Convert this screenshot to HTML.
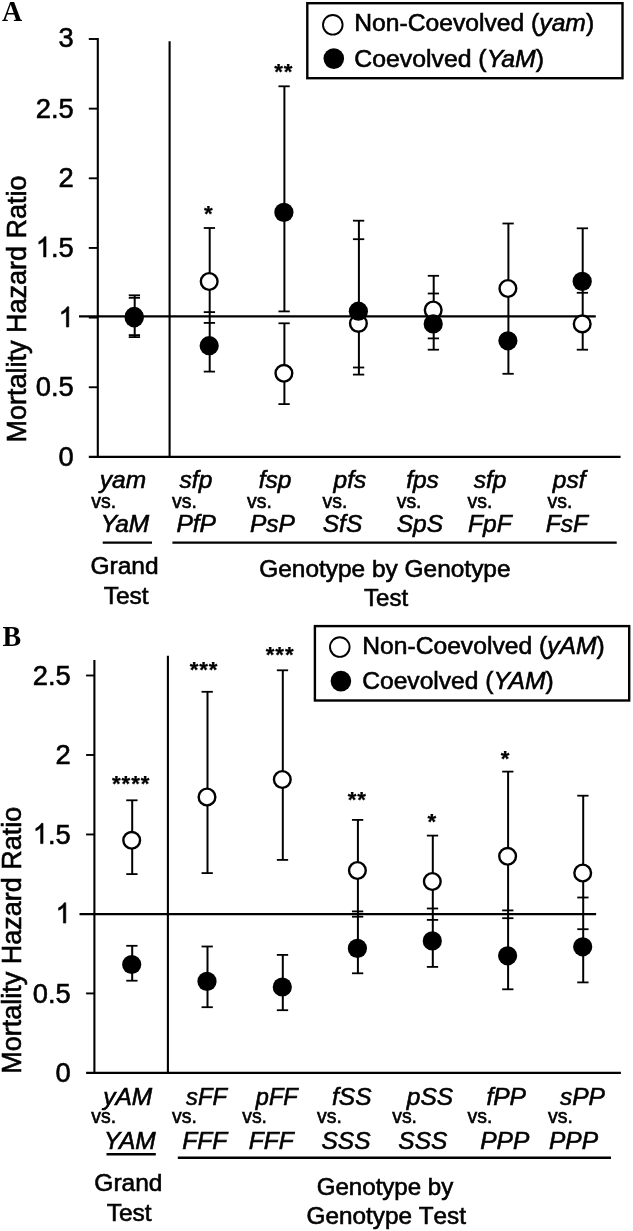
<!DOCTYPE html>
<html lang="en">
<head>
<meta charset="utf-8">
<title>Mortality Hazard Ratio</title>
<style>
html,body{margin:0;padding:0;background:#fff;}
body{width:633px;height:1231px;overflow:hidden;font-family:"Liberation Sans",sans-serif;}
svg{display:block;}
text{font-family:"Liberation Sans",sans-serif;stroke:#000;stroke-width:0.6px;}
svg{will-change:transform;}
</style>
</head>
<body>
<svg width="633" height="1231" viewBox="0 0 633 1231" font-family='"Liberation Sans", sans-serif' fill="#000">
<rect x="0" y="0" width="633" height="1231" fill="#fff"/>
<text transform="translate(1.95,20.7) scale(1,1.03)" font-size="28" font-weight="bold" style="font-family:&quot;Liberation Serif&quot;,serif;stroke:none">A</text>
<line x1="97.80" y1="38.10" x2="97.80" y2="457.95" stroke="#000" stroke-width="2.1"/>
<line x1="88.80" y1="456.90" x2="620.60" y2="456.90" stroke="#000" stroke-width="2.1"/>
<line x1="88.80" y1="39.00" x2="97.80" y2="39.00" stroke="#000" stroke-width="1.9"/>
<line x1="88.80" y1="108.65" x2="97.80" y2="108.65" stroke="#000" stroke-width="1.9"/>
<line x1="88.80" y1="178.30" x2="97.80" y2="178.30" stroke="#000" stroke-width="1.9"/>
<line x1="88.80" y1="247.95" x2="97.80" y2="247.95" stroke="#000" stroke-width="1.9"/>
<line x1="88.80" y1="317.60" x2="97.80" y2="317.60" stroke="#000" stroke-width="1.9"/>
<line x1="88.80" y1="387.25" x2="97.80" y2="387.25" stroke="#000" stroke-width="1.9"/>
<g transform="translate(58.62,47.30) scale(1,1.035)">
<text x="0" y="0" font-size="27.3">3</text>
</g>
<g transform="translate(35.85,117.75) scale(1,1.035)">
<text x="0" y="0" font-size="27.3">2.5</text>
</g>
<g transform="translate(58.62,186.90) scale(1,1.035)">
<text x="0" y="0" font-size="27.3">2</text>
</g>
<g transform="translate(35.85,256.95) scale(1,1.035)">
<path d="M763,0 L583,0 L583,1147 Q518,1085 412.5,1023 Q307,961 223,930 L223,1104 Q374,1175 487,1276 Q600,1377 647,1472 L763,1472 Z" transform="scale(0.013330,-0.013330)" fill="#000" stroke="#000" stroke-width="45.0"/>
<text x="15.18" y="0" font-size="27.3">.5</text>
</g>
<g transform="translate(58.62,327.00) scale(1,1.035)">
<path d="M763,0 L583,0 L583,1147 Q518,1085 412.5,1023 Q307,961 223,930 L223,1104 Q374,1175 487,1276 Q600,1377 647,1472 L763,1472 Z" transform="scale(0.013330,-0.013330)" fill="#000" stroke="#000" stroke-width="45.0"/>
</g>
<g transform="translate(35.85,396.25) scale(1,1.035)">
<text x="0" y="0" font-size="27.3">0.5</text>
</g>
<g transform="translate(58.62,466.20) scale(1,1.035)">
<text x="0" y="0" font-size="27.3">0</text>
</g>
<line x1="169.60" y1="41.30" x2="169.60" y2="456.90" stroke="#000" stroke-width="2.1"/>
<line x1="79.00" y1="316.30" x2="595.80" y2="316.30" stroke="#000" stroke-width="2.2"/>
<text transform="translate(25.9,309.0) rotate(-90)" font-size="27.0" text-anchor="middle">Mortality Hazard Ratio</text>
<line x1="134.70" y1="295.30" x2="134.70" y2="337.10" stroke="#000" stroke-width="2.0"/>
<line x1="128.75" y1="295.30" x2="140.05" y2="295.30" stroke="#000" stroke-width="1.8"/>
<line x1="128.75" y1="297.80" x2="140.05" y2="297.80" stroke="#000" stroke-width="1.8"/>
<line x1="128.75" y1="335.10" x2="140.05" y2="335.10" stroke="#000" stroke-width="1.8"/>
<line x1="128.75" y1="337.10" x2="140.05" y2="337.10" stroke="#000" stroke-width="1.8"/>
<line x1="209.70" y1="228.00" x2="209.70" y2="371.60" stroke="#000" stroke-width="2.0"/>
<line x1="203.75" y1="228.00" x2="215.05" y2="228.00" stroke="#000" stroke-width="1.8"/>
<line x1="203.75" y1="312.10" x2="215.05" y2="312.10" stroke="#000" stroke-width="1.8"/>
<line x1="203.75" y1="322.90" x2="215.05" y2="322.90" stroke="#000" stroke-width="1.8"/>
<line x1="203.75" y1="371.60" x2="215.05" y2="371.60" stroke="#000" stroke-width="1.8"/>
<line x1="284.40" y1="86.30" x2="284.40" y2="311.40" stroke="#000" stroke-width="2.0"/>
<line x1="278.45" y1="86.30" x2="289.75" y2="86.30" stroke="#000" stroke-width="1.8"/>
<line x1="278.45" y1="311.40" x2="289.75" y2="311.40" stroke="#000" stroke-width="1.8"/>
<line x1="284.40" y1="323.30" x2="284.40" y2="404.10" stroke="#000" stroke-width="2.0"/>
<line x1="278.45" y1="323.30" x2="289.75" y2="323.30" stroke="#000" stroke-width="1.8"/>
<line x1="278.45" y1="404.10" x2="289.75" y2="404.10" stroke="#000" stroke-width="1.8"/>
<line x1="358.90" y1="220.70" x2="358.90" y2="374.60" stroke="#000" stroke-width="2.0"/>
<line x1="352.95" y1="220.70" x2="364.25" y2="220.70" stroke="#000" stroke-width="1.8"/>
<line x1="352.95" y1="239.20" x2="364.25" y2="239.20" stroke="#000" stroke-width="1.8"/>
<line x1="352.95" y1="367.50" x2="364.25" y2="367.50" stroke="#000" stroke-width="1.8"/>
<line x1="352.95" y1="374.60" x2="364.25" y2="374.60" stroke="#000" stroke-width="1.8"/>
<line x1="433.70" y1="275.80" x2="433.70" y2="349.70" stroke="#000" stroke-width="2.0"/>
<line x1="427.75" y1="275.80" x2="439.05" y2="275.80" stroke="#000" stroke-width="1.8"/>
<line x1="427.75" y1="293.50" x2="439.05" y2="293.50" stroke="#000" stroke-width="1.8"/>
<line x1="427.75" y1="338.40" x2="439.05" y2="338.40" stroke="#000" stroke-width="1.8"/>
<line x1="427.75" y1="349.70" x2="439.05" y2="349.70" stroke="#000" stroke-width="1.8"/>
<line x1="508.40" y1="223.50" x2="508.40" y2="373.80" stroke="#000" stroke-width="2.0"/>
<line x1="502.45" y1="223.50" x2="513.75" y2="223.50" stroke="#000" stroke-width="1.8"/>
<line x1="502.45" y1="373.80" x2="513.75" y2="373.80" stroke="#000" stroke-width="1.8"/>
<line x1="582.70" y1="228.30" x2="582.70" y2="349.70" stroke="#000" stroke-width="2.0"/>
<line x1="576.75" y1="228.30" x2="588.05" y2="228.30" stroke="#000" stroke-width="1.8"/>
<line x1="576.75" y1="292.80" x2="588.05" y2="292.80" stroke="#000" stroke-width="1.8"/>
<line x1="576.75" y1="349.70" x2="588.05" y2="349.70" stroke="#000" stroke-width="1.8"/>
<circle cx="134.20" cy="316.40" r="8.35" fill="#fff" stroke="#000" stroke-width="2.4"/>
<circle cx="209.20" cy="281.50" r="8.35" fill="#fff" stroke="#000" stroke-width="2.4"/>
<circle cx="283.90" cy="373.30" r="8.35" fill="#fff" stroke="#000" stroke-width="2.4"/>
<circle cx="358.40" cy="323.40" r="8.35" fill="#fff" stroke="#000" stroke-width="2.4"/>
<circle cx="433.20" cy="310.00" r="8.35" fill="#fff" stroke="#000" stroke-width="2.4"/>
<circle cx="507.90" cy="288.50" r="8.35" fill="#fff" stroke="#000" stroke-width="2.4"/>
<circle cx="582.20" cy="323.90" r="8.35" fill="#fff" stroke="#000" stroke-width="2.4"/>
<circle cx="134.20" cy="317.80" r="9.6" fill="#000"/>
<circle cx="209.20" cy="345.70" r="9.6" fill="#000"/>
<circle cx="283.90" cy="212.40" r="9.6" fill="#000"/>
<circle cx="358.40" cy="311.20" r="9.6" fill="#000"/>
<circle cx="433.20" cy="323.90" r="9.6" fill="#000"/>
<circle cx="507.90" cy="340.80" r="9.6" fill="#000"/>
<circle cx="582.20" cy="281.40" r="9.6" fill="#000"/>
<text x="208.40" y="220.76" font-size="22.3" text-anchor="middle" font-weight="bold" style="stroke-width:0.25px">*</text>
<text x="278.53" y="78.96" font-size="22.3" text-anchor="middle" font-weight="bold" style="stroke-width:0.25px">*</text>
<text x="288.07" y="78.96" font-size="22.3" text-anchor="middle" font-weight="bold" style="stroke-width:0.25px">*</text>
<rect x="307.3" y="3.2" width="315.2" height="75" fill="#fff" stroke="#000" stroke-width="2.4"/>
<circle cx="332.8" cy="24.8" r="9.8" fill="#fff" stroke="#000" stroke-width="1.9"/>
<circle cx="333.8" cy="58.6" r="10.3" fill="#000"/>
<text x="354.3" y="31.2" font-size="24.67">Non-Coevolved (<tspan font-style="italic">yam</tspan>)</text>
<text x="354.3" y="67.3" font-size="24.8">Coevolved (<tspan font-style="italic">YaM</tspan>)</text>
<text x="99.75" y="488.00" font-size="24.5" text-anchor="start" font-style="italic" >yam</text>
<text x="91.30" y="507.80" font-size="19.4" text-anchor="start" >vs.</text>
<text x="100.63" y="532.10" font-size="24.5" text-anchor="start" font-style="italic" >YaM</text>
<text x="179.58" y="488.00" font-size="24.5" text-anchor="start" font-style="italic" >sfp</text>
<text x="172.10" y="507.80" font-size="19.4" text-anchor="start" >vs.</text>
<text x="176.46" y="532.10" font-size="24.5" text-anchor="start" font-style="italic" >PfP</text>
<text x="258.64" y="488.00" font-size="24.5" text-anchor="start" font-style="italic" >fsp</text>
<text x="247.10" y="507.80" font-size="19.4" text-anchor="start" >vs.</text>
<text x="249.96" y="532.10" font-size="24.5" text-anchor="start" font-style="italic" >PsP</text>
<text x="333.61" y="488.00" font-size="24.5" text-anchor="start" font-style="italic" >pfs</text>
<text x="322.50" y="507.80" font-size="19.4" text-anchor="start" >vs.</text>
<text x="322.76" y="532.10" font-size="24.5" text-anchor="start" font-style="italic" >SfS</text>
<text x="406.14" y="488.00" font-size="24.5" text-anchor="start" font-style="italic" >fps</text>
<text x="396.70" y="507.80" font-size="19.4" text-anchor="start" >vs.</text>
<text x="396.76" y="532.10" font-size="24.5" text-anchor="start" font-style="italic" >SpS</text>
<text x="473.68" y="488.00" font-size="24.5" text-anchor="start" font-style="italic" >sfp</text>
<text x="467.60" y="507.80" font-size="19.4" text-anchor="start" >vs.</text>
<text x="468.06" y="532.10" font-size="24.5" text-anchor="start" font-style="italic" >FpF</text>
<text x="552.81" y="488.00" font-size="24.5" text-anchor="start" font-style="italic" >psf</text>
<text x="547.60" y="507.80" font-size="19.4" text-anchor="start" >vs.</text>
<text x="545.87" y="532.10" font-size="24.5" text-anchor="start" font-style="italic" >FsF</text>
<line x1="102.70" y1="542.60" x2="152.00" y2="542.60" stroke="#000" stroke-width="2.4"/>
<line x1="172.40" y1="542.60" x2="616.70" y2="542.60" stroke="#000" stroke-width="2.4"/>
<text x="124.50" y="574.30" font-size="24.5" text-anchor="middle" >Grand</text>
<text x="126.10" y="603.70" font-size="24.5" text-anchor="middle" >Test</text>
<text x="384.90" y="577.20" font-size="24.45" text-anchor="middle" >Genotype by Genotype</text>
<text x="386.10" y="606.40" font-size="24.0" text-anchor="middle" >Test</text>
<text transform="translate(2.45,645.8) scale(1,1.03)" font-size="28" font-weight="bold" style="font-family:&quot;Liberation Serif&quot;,serif;stroke:none">B</text>
<line x1="94.40" y1="659.90" x2="94.40" y2="1073.95" stroke="#000" stroke-width="2.1"/>
<line x1="86.10" y1="1072.90" x2="620.90" y2="1072.90" stroke="#000" stroke-width="2.1"/>
<line x1="86.10" y1="675.50" x2="94.40" y2="675.50" stroke="#000" stroke-width="1.9"/>
<line x1="86.10" y1="754.98" x2="94.40" y2="754.98" stroke="#000" stroke-width="1.9"/>
<line x1="86.10" y1="834.46" x2="94.40" y2="834.46" stroke="#000" stroke-width="1.9"/>
<line x1="86.10" y1="913.94" x2="94.40" y2="913.94" stroke="#000" stroke-width="1.9"/>
<line x1="86.10" y1="993.42" x2="94.40" y2="993.42" stroke="#000" stroke-width="1.9"/>
<g transform="translate(32.85,684.65) scale(1,1.035)">
<text x="0" y="0" font-size="27.3">2.5</text>
</g>
<g transform="translate(55.62,764.13) scale(1,1.035)">
<text x="0" y="0" font-size="27.3">2</text>
</g>
<g transform="translate(32.85,843.61) scale(1,1.035)">
<path d="M763,0 L583,0 L583,1147 Q518,1085 412.5,1023 Q307,961 223,930 L223,1104 Q374,1175 487,1276 Q600,1377 647,1472 L763,1472 Z" transform="scale(0.013330,-0.013330)" fill="#000" stroke="#000" stroke-width="45.0"/>
<text x="15.18" y="0" font-size="27.3">.5</text>
</g>
<g transform="translate(55.62,923.09) scale(1,1.035)">
<path d="M763,0 L583,0 L583,1147 Q518,1085 412.5,1023 Q307,961 223,930 L223,1104 Q374,1175 487,1276 Q600,1377 647,1472 L763,1472 Z" transform="scale(0.013330,-0.013330)" fill="#000" stroke="#000" stroke-width="45.0"/>
</g>
<g transform="translate(32.85,1002.57) scale(1,1.035)">
<text x="0" y="0" font-size="27.3">0.5</text>
</g>
<g transform="translate(55.62,1082.05) scale(1,1.035)">
<text x="0" y="0" font-size="27.3">0</text>
</g>
<line x1="167.90" y1="655.70" x2="167.90" y2="1072.90" stroke="#000" stroke-width="2.1"/>
<line x1="79.50" y1="914.10" x2="596.10" y2="914.10" stroke="#000" stroke-width="2.2"/>
<text transform="translate(21.3,940.3) rotate(-90)" font-size="27.0" text-anchor="middle">Mortality Hazard Ratio</text>
<line x1="132.20" y1="800.30" x2="132.20" y2="874.10" stroke="#000" stroke-width="2.0"/>
<line x1="126.25" y1="800.30" x2="137.55" y2="800.30" stroke="#000" stroke-width="1.8"/>
<line x1="126.25" y1="874.10" x2="137.55" y2="874.10" stroke="#000" stroke-width="1.8"/>
<line x1="132.20" y1="945.80" x2="132.20" y2="980.70" stroke="#000" stroke-width="2.0"/>
<line x1="126.25" y1="945.80" x2="137.55" y2="945.80" stroke="#000" stroke-width="1.8"/>
<line x1="126.25" y1="980.70" x2="137.55" y2="980.70" stroke="#000" stroke-width="1.8"/>
<line x1="207.50" y1="691.80" x2="207.50" y2="873.10" stroke="#000" stroke-width="2.0"/>
<line x1="201.55" y1="691.80" x2="212.85" y2="691.80" stroke="#000" stroke-width="1.8"/>
<line x1="201.55" y1="873.10" x2="212.85" y2="873.10" stroke="#000" stroke-width="1.8"/>
<line x1="207.50" y1="946.50" x2="207.50" y2="1007.20" stroke="#000" stroke-width="2.0"/>
<line x1="201.55" y1="946.50" x2="212.85" y2="946.50" stroke="#000" stroke-width="1.8"/>
<line x1="201.55" y1="1007.20" x2="212.85" y2="1007.20" stroke="#000" stroke-width="1.8"/>
<line x1="282.80" y1="670.30" x2="282.80" y2="859.90" stroke="#000" stroke-width="2.0"/>
<line x1="276.85" y1="670.30" x2="288.15" y2="670.30" stroke="#000" stroke-width="1.8"/>
<line x1="276.85" y1="859.90" x2="288.15" y2="859.90" stroke="#000" stroke-width="1.8"/>
<line x1="282.80" y1="954.90" x2="282.80" y2="1010.20" stroke="#000" stroke-width="2.0"/>
<line x1="276.85" y1="954.90" x2="288.15" y2="954.90" stroke="#000" stroke-width="1.8"/>
<line x1="276.85" y1="1010.20" x2="288.15" y2="1010.20" stroke="#000" stroke-width="1.8"/>
<line x1="357.90" y1="819.90" x2="357.90" y2="973.30" stroke="#000" stroke-width="2.0"/>
<line x1="351.95" y1="819.90" x2="363.25" y2="819.90" stroke="#000" stroke-width="1.8"/>
<line x1="351.95" y1="911.40" x2="363.25" y2="911.40" stroke="#000" stroke-width="1.8"/>
<line x1="351.95" y1="916.70" x2="363.25" y2="916.70" stroke="#000" stroke-width="1.8"/>
<line x1="351.95" y1="973.30" x2="363.25" y2="973.30" stroke="#000" stroke-width="1.8"/>
<line x1="432.80" y1="835.60" x2="432.80" y2="966.90" stroke="#000" stroke-width="2.0"/>
<line x1="426.85" y1="835.60" x2="438.15" y2="835.60" stroke="#000" stroke-width="1.8"/>
<line x1="426.85" y1="908.50" x2="438.15" y2="908.50" stroke="#000" stroke-width="1.8"/>
<line x1="426.85" y1="919.90" x2="438.15" y2="919.90" stroke="#000" stroke-width="1.8"/>
<line x1="426.85" y1="966.90" x2="438.15" y2="966.90" stroke="#000" stroke-width="1.8"/>
<line x1="508.10" y1="771.60" x2="508.10" y2="989.30" stroke="#000" stroke-width="2.0"/>
<line x1="502.15" y1="771.60" x2="513.45" y2="771.60" stroke="#000" stroke-width="1.8"/>
<line x1="502.15" y1="910.40" x2="513.45" y2="910.40" stroke="#000" stroke-width="1.8"/>
<line x1="502.15" y1="918.20" x2="513.45" y2="918.20" stroke="#000" stroke-width="1.8"/>
<line x1="502.15" y1="989.30" x2="513.45" y2="989.30" stroke="#000" stroke-width="1.8"/>
<line x1="583.20" y1="795.70" x2="583.20" y2="982.40" stroke="#000" stroke-width="2.0"/>
<line x1="577.25" y1="795.70" x2="588.55" y2="795.70" stroke="#000" stroke-width="1.8"/>
<line x1="577.25" y1="897.50" x2="588.55" y2="897.50" stroke="#000" stroke-width="1.8"/>
<line x1="577.25" y1="929.20" x2="588.55" y2="929.20" stroke="#000" stroke-width="1.8"/>
<line x1="577.25" y1="982.40" x2="588.55" y2="982.40" stroke="#000" stroke-width="1.8"/>
<circle cx="131.70" cy="840.30" r="8.35" fill="#fff" stroke="#000" stroke-width="2.4"/>
<circle cx="207.00" cy="797.00" r="8.35" fill="#fff" stroke="#000" stroke-width="2.4"/>
<circle cx="282.30" cy="779.50" r="8.35" fill="#fff" stroke="#000" stroke-width="2.4"/>
<circle cx="357.40" cy="870.50" r="8.35" fill="#fff" stroke="#000" stroke-width="2.4"/>
<circle cx="432.30" cy="881.50" r="8.35" fill="#fff" stroke="#000" stroke-width="2.4"/>
<circle cx="507.60" cy="856.30" r="8.35" fill="#fff" stroke="#000" stroke-width="2.4"/>
<circle cx="582.70" cy="873.00" r="8.35" fill="#fff" stroke="#000" stroke-width="2.4"/>
<circle cx="131.70" cy="964.50" r="9.6" fill="#000"/>
<circle cx="207.00" cy="981.40" r="9.6" fill="#000"/>
<circle cx="282.30" cy="987.00" r="9.6" fill="#000"/>
<circle cx="357.40" cy="948.40" r="9.6" fill="#000"/>
<circle cx="432.30" cy="940.90" r="9.6" fill="#000"/>
<circle cx="507.60" cy="955.80" r="9.6" fill="#000"/>
<circle cx="582.70" cy="946.80" r="9.6" fill="#000"/>
<text x="116.37" y="790.86" font-size="22.3" text-anchor="middle" font-weight="bold" style="stroke-width:0.25px">*</text>
<text x="125.92" y="790.86" font-size="22.3" text-anchor="middle" font-weight="bold" style="stroke-width:0.25px">*</text>
<text x="135.47" y="790.86" font-size="22.3" text-anchor="middle" font-weight="bold" style="stroke-width:0.25px">*</text>
<text x="145.02" y="790.86" font-size="22.3" text-anchor="middle" font-weight="bold" style="stroke-width:0.25px">*</text>
<text x="194.05" y="677.26" font-size="22.3" text-anchor="middle" font-weight="bold" style="stroke-width:0.25px">*</text>
<text x="203.60" y="677.26" font-size="22.3" text-anchor="middle" font-weight="bold" style="stroke-width:0.25px">*</text>
<text x="213.15" y="677.26" font-size="22.3" text-anchor="middle" font-weight="bold" style="stroke-width:0.25px">*</text>
<text x="270.15" y="661.66" font-size="22.3" text-anchor="middle" font-weight="bold" style="stroke-width:0.25px">*</text>
<text x="279.70" y="661.66" font-size="22.3" text-anchor="middle" font-weight="bold" style="stroke-width:0.25px">*</text>
<text x="289.25" y="661.66" font-size="22.3" text-anchor="middle" font-weight="bold" style="stroke-width:0.25px">*</text>
<text x="352.03" y="806.66" font-size="22.3" text-anchor="middle" font-weight="bold" style="stroke-width:0.25px">*</text>
<text x="361.57" y="806.66" font-size="22.3" text-anchor="middle" font-weight="bold" style="stroke-width:0.25px">*</text>
<text x="431.85" y="829.16" font-size="22.3" text-anchor="middle" font-weight="bold" style="stroke-width:0.25px">*</text>
<text x="505.00" y="765.76" font-size="22.3" text-anchor="middle" font-weight="bold" style="stroke-width:0.25px">*</text>
<rect x="314.9" y="626.1" width="314.3" height="74.4" fill="#fff" stroke="#000" stroke-width="2.4"/>
<circle cx="339.8" cy="647.1" r="9.8" fill="#fff" stroke="#000" stroke-width="1.9"/>
<circle cx="340.9" cy="681.1" r="10.3" fill="#000"/>
<text x="362.2" y="653.9" font-size="24.67">Non-Coevolved (<tspan font-style="italic">yAM</tspan>)</text>
<text x="362.2" y="689.3" font-size="24.62">Coevolved (<tspan font-style="italic">YAM</tspan>)</text>
<text x="103.15" y="1104.50" font-size="24.5" text-anchor="start" font-style="italic" >yAM</text>
<text x="91.30" y="1123.00" font-size="19.4" text-anchor="start" >vs.</text>
<text x="103.93" y="1149.00" font-size="24.5" text-anchor="start" font-style="italic" >YAM</text>
<text x="186.08" y="1104.50" font-size="23.7" text-anchor="start" font-style="italic" >sFF</text>
<text x="172.00" y="1123.00" font-size="19.4" text-anchor="start" >vs.</text>
<text x="182.36" y="1149.00" font-size="24.5" text-anchor="start" font-style="italic" >FFF</text>
<text x="255.79" y="1104.50" font-size="23.6" text-anchor="start" font-style="italic" >pFF</text>
<text x="242.20" y="1123.00" font-size="19.4" text-anchor="start" >vs.</text>
<text x="248.76" y="1149.00" font-size="24.5" text-anchor="start" font-style="italic" >FFF</text>
<text x="332.04" y="1104.50" font-size="24.5" text-anchor="start" font-style="italic" >fSS</text>
<text x="317.10" y="1123.00" font-size="19.4" text-anchor="start" >vs.</text>
<text x="321.46" y="1149.00" font-size="24.5" text-anchor="start" font-style="italic" >SSS</text>
<text x="406.81" y="1104.50" font-size="24.5" text-anchor="start" font-style="italic" >pSS</text>
<text x="392.20" y="1123.00" font-size="19.4" text-anchor="start" >vs.</text>
<text x="398.37" y="1149.00" font-size="24.5" text-anchor="start" font-style="italic" >SSS</text>
<text x="486.44" y="1104.50" font-size="24.5" text-anchor="start" font-style="italic" >fPP</text>
<text x="467.50" y="1123.00" font-size="19.4" text-anchor="start" >vs.</text>
<text x="480.26" y="1149.00" font-size="24.5" text-anchor="start" font-style="italic" >PPP</text>
<text x="559.88" y="1104.50" font-size="24.5" text-anchor="start" font-style="italic" >sPP</text>
<text x="548.00" y="1123.00" font-size="19.4" text-anchor="start" >vs.</text>
<text x="548.97" y="1149.00" font-size="24.5" text-anchor="start" font-style="italic" >PPP</text>
<line x1="106.50" y1="1154.30" x2="155.80" y2="1154.30" stroke="#000" stroke-width="2.4"/>
<line x1="177.80" y1="1157.70" x2="611.00" y2="1157.70" stroke="#000" stroke-width="2.4"/>
<text x="128.40" y="1191.40" font-size="24.5" text-anchor="middle" >Grand</text>
<text x="129.10" y="1220.60" font-size="24.5" text-anchor="middle" >Test</text>
<text x="385.00" y="1195.20" font-size="24.1" text-anchor="middle" >Genotype by</text>
<text x="386.30" y="1224.20" font-size="24.3" text-anchor="middle" style="font-kerning:none">Genotype Test</text>
</svg>
</body>
</html>
